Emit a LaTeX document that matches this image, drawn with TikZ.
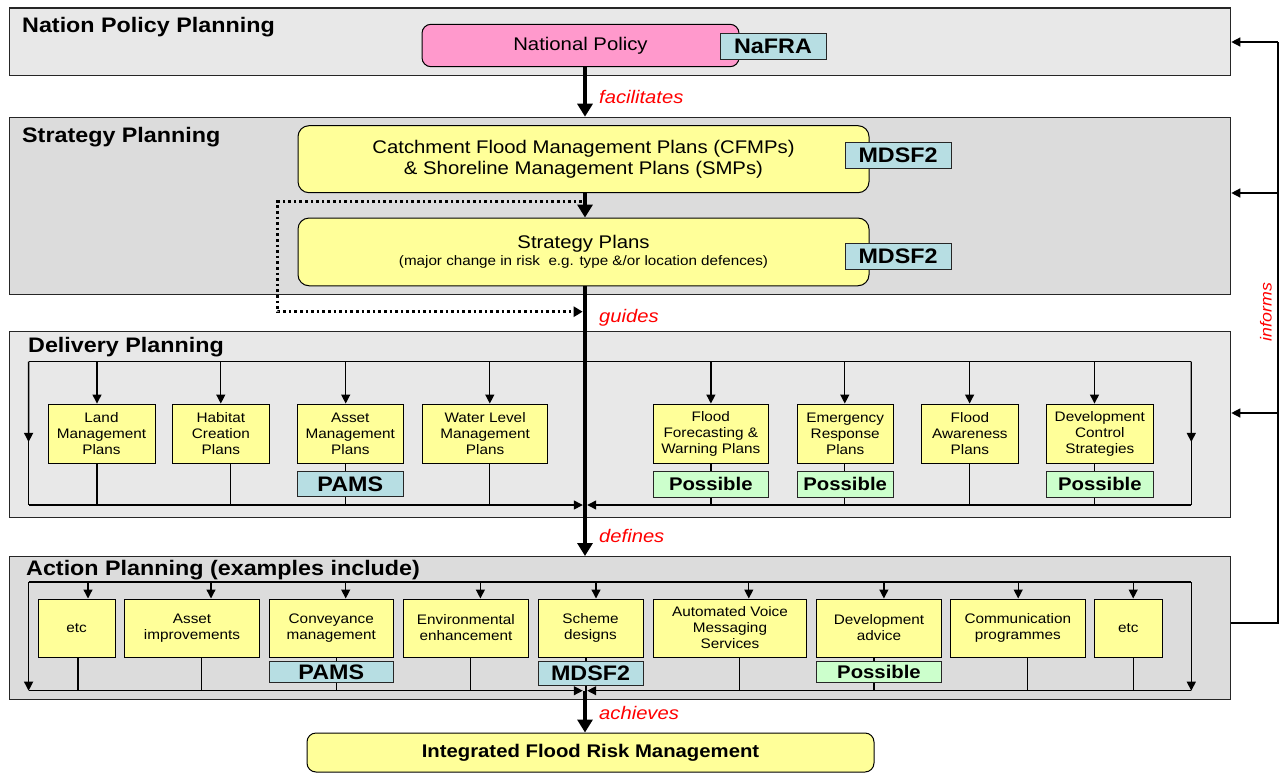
\documentclass[tikz,border=0pt]{standalone}
\usepackage{fontspec}
\setmainfont{Liberation Sans}[FakeStretch=1.11]
\usetikzlibrary{arrows.meta,calc}

\definecolor{panellight}{HTML}{E8E8E8}
\definecolor{paneldark}{HTML}{DCDCDC}
\definecolor{planyellow}{HTML}{FFFF99}
\definecolor{policypink}{HTML}{FF99CC}
\definecolor{tagblue}{HTML}{B7DEE3}
\definecolor{taggreen}{HTML}{CCFFCC}
\definecolor{labelred}{HTML}{FF0000}

\begin{document}
\begin{tikzpicture}[x=1pt,y=-1pt,
  panel/.style={draw=black!85, line width=1.3pt, inner sep=0pt, anchor=north west},
  paneltitle/.style={anchor=base west, inner sep=0pt, font=\fontsize{21}{24}\selectfont\bfseries},
  plan/.style={draw=black, line width=1pt, fill=planyellow, align=center, inner sep=0pt,
    font=\fontsize{13.8}{16}\selectfont},
  bigplan/.style={draw=black, line width=1pt, fill=planyellow, rounded corners=11pt,
    align=center, inner sep=0pt, font=\fontsize{18.3}{21}\selectfont},
  tag/.style={draw=black!85, line width=1pt, fill=tagblue, inner sep=0pt,
    font=\fontsize{21}{24}\selectfont\bfseries},
  maybe/.style={draw=black!85, line width=1pt, fill=taggreen, inner sep=0pt,
    font=\fontsize{18.3}{21}\selectfont\bfseries},
  flow/.style={line width=4.5pt, -{Triangle[width=15pt,length=13pt]}},
  feed/.style={line width=1.3pt, -{Triangle[width=9pt,length=9pt]}},
  wire/.style={line width=1.3pt},
  loopback/.style={line width=2.8pt, dash pattern=on 2.6pt off 3pt,
    -{Triangle[width=10pt,length=9pt]}},
  verb/.style={anchor=west, inner sep=0pt, text=labelred, font=\fontsize{18.2}{21}\selectfont\itshape},
]
\useasboundingbox (0,0) rectangle (1286,774);

% ---------- planning tiers ----------
\node[panel, fill=panellight, minimum width=1221pt, minimum height=67.7pt]  (pNat) at (9,7.3) {};
\node[panel, fill=paneldark,  minimum width=1221pt, minimum height=177.3pt] (pStr) at (9,116.7) {};
\node[panel, fill=panellight, minimum width=1221pt, minimum height=185.7pt] (pDel) at (9,331) {};
\node[panel, fill=paneldark,  minimum width=1221pt, minimum height=143pt]   (pAct) at (9,556) {};

\node[paneltitle] (tNat) at (22,32.3)  {Nation Policy Planning};
\node[paneltitle] (tStr) at (22,142.3) {Strategy Planning};
\node[paneltitle] (tDel) at (28,352.7) {Delivery Planning};
\node[paneltitle] (tAct) at (26,575)   {Action Planning (examples include)};

\coordinate (sp) at (585,0);

% ---------- national and strategy level ----------
\node[draw=black, line width=1pt, fill=policypink, rounded corners=9pt, inner sep=0pt,
      minimum width=317pt, minimum height=42.4pt, font=\fontsize{18.3}{21}\selectfont]
      (NP) at (580.5,45.5) {National Policy};

\node[bigplan, minimum width=571pt, minimum height=67pt] (CFMP) at (583.5,159.2)
  {Catchment Flood Management Plans (CFMPs)\\\& Shoreline Management Plans (SMPs)};
\node[bigplan, minimum width=571pt, minimum height=67.7pt] (SP) at (583.5,251.9)
  {Strategy Plans\\[-4.5pt]{\fontsize{13.7}{16}\selectfont (major change in risk\ \ e.g. type \&/or location defences)}};

% ---------- delivery plans ----------
\node[plan, minimum width=107pt,   minimum height=59.3pt] (d1) at (101.5,433.7)  {Land\\Management\\Plans};
\node[plan, minimum width=96.3pt,  minimum height=59.3pt] (d2) at (220.85,433.7) {Habitat\\Creation\\Plans};
\node[plan, minimum width=105.4pt, minimum height=59.3pt] (d3) at (350.3,433.7)  {Asset\\Management\\Plans};
\node[plan, minimum width=125.4pt, minimum height=59.3pt] (d4) at (485.1,433.7)  {Water Level\\Management\\Plans};
\node[plan, minimum width=115.6pt, minimum height=59.3pt] (d5) at (710.8,433.7)  {Flood\\Forecasting \&\\Warning Plans};
\node[plan, minimum width=96.4pt,  minimum height=59.3pt] (d6) at (845.2,433.7)  {Emergency\\Response\\Plans};
\node[plan, minimum width=96.2pt,  minimum height=59.3pt] (d7) at (969.9,433.7)  {Flood\\Awareness\\Plans};
\node[plan, minimum width=106.3pt, minimum height=59.3pt] (d8) at (1099.85,433.7) {Development\\Control\\Strategies};

% ---------- action plans ----------
\node[plan, minimum width=77pt,    minimum height=58pt] (a1) at (76.5,628)    {etc};
\node[plan, minimum width=135.1pt, minimum height=58pt] (a2) at (192.05,628)  {Asset\\improvements};
\node[plan, minimum width=124.5pt, minimum height=58pt] (a3) at (331.25,628)  {Conveyance\\management};
\node[plan, minimum width=125.3pt, minimum height=58pt] (a4) at (465.95,628)  {Environmental\\enhancement};
\node[plan, minimum width=105pt,   minimum height=58pt] (a5) at (590.5,628)   {Scheme\\designs};
\node[plan, minimum width=153.7pt, minimum height=58pt] (a6) at (730,628)     {Automated Voice\\Messaging\\Services};
\node[plan, minimum width=125.2pt, minimum height=58pt] (a7) at (879,628)     {Development\\advice};
\node[plan, minimum width=135.1pt, minimum height=58pt] (a8) at (1017.85,628) {Communication\\programmes};
\node[plan, minimum width=67.5pt,  minimum height=58pt] (a9) at (1128.25,628) {etc};

% ---------- outcome ----------
\node[draw=black, line width=1pt, fill=planyellow, rounded corners=9pt, inner sep=0pt,
      minimum width=567pt, minimum height=39pt, font=\fontsize{18.3}{21}\selectfont\bfseries]
      (IFRM) at (590.5,752.5) {Integrated Flood Risk Management};

% ---------- main spine ----------
\draw[flow] (NP.south -| sp) -- (pStr.north -| sp);
\draw[flow] (CFMP.south -| sp) -- (SP.north -| sp);
\draw[flow] (SP.south -| sp) -- (pAct.north -| sp);

\coordinate (loopTop) at (582,201.7);
\coordinate (loopBot) at (585,311.7);
\draw[loopback, shorten >=2.3pt] (loopTop) -- (277.6,201.7) -- (277.6,311.7) -- (loopBot);

\node[verb] (vFac) at (599,97)  {facilitates};
\node[verb] (vGui) at (599,318) {guides};
\node[verb] (vDef) at (599,536) {defines};
\node[verb] (vAch) at (599,713) {achieves};

% ---------- delivery distribution ----------
\coordinate (dTL) at (28.6,361.7);
\coordinate (dTR) at (1191.3,361.7);
\coordinate (dBL) at (28.6,505);
\coordinate (dBR) at (1191.3,505);
\coordinate (dHub) at (585,505);
\draw[wire] (dTL) -- (dTR);
\draw[wire] (dTL) -- (dBL);
\draw[wire] (dTR) -- (dBR);
\draw[feed] (dTL) -- ($(dTL)!0.56!(dBL)$);
\draw[feed] (dTR) -- ($(dTR)!0.56!(dBR)$);
\draw[feed, shorten >=2.2pt] (dBL) -- (dHub);
\draw[feed, shorten >=2.2pt] (dBR) -- (dHub);
\foreach \n/\xa/\xb in {1/97/97, 2/220.8/230.6, 3/345.7/345.7, 4/489.8/489.8,
                        5/710.9/711, 6/844.8/844.8, 7/969.6/969.6, 8/1094.5/1094.5} {
  \coordinate (dt\n) at (\xa,361.7);
  \coordinate (db\n) at (\xb,505);
  \draw[feed] (dt\n) -- (dt\n |- d\n.north);
  \draw[wire] (db\n |- d\n.south) -- (db\n);
}

% ---------- action distribution ----------
\coordinate (aTL) at (28.6,582);
\coordinate (aTR) at (1191.3,582);
\coordinate (aBL) at (28.6,690.7);
\coordinate (aBR) at (1191.3,690.7);
\coordinate (aHub) at (585,690.7);
\draw[wire] (aTL) -- (aTR);
\draw[feed] (aTL) -- (aBL);
\draw[feed] (aTR) -- (aBR);
\draw[feed, shorten >=2.2pt] (aBL) -- (aHub);
\draw[feed, shorten >=2.2pt] (aBR) -- (aHub);
\foreach \n/\xa/\xb in {1/88/78, 2/211/201.6, 3/345.7/336.3, 4/480.4/470.6, 5/596/586,
                        6/748.8/739.3, 7/883.9/874, 8/1018.2/1027.3, 9/1133.2/1133.6} {
  \coordinate (at\n) at (\xa,582);
  \coordinate (ab\n) at (\xb,690.7);
  \draw[feed] (at\n) -- (at\n |- a\n.north);
  \draw[wire] (ab\n |- a\n.south) -- (ab\n);
}
\draw[flow] (aHub) -- (IFRM.north -| sp);

% ---------- feedback loop ----------
\coordinate (infTop) at (1278,42);
\coordinate (infStr) at (1278,193);
\coordinate (infDel) at (1278,413);
\coordinate (infBot) at (1278,623);
\draw[wire] (pAct.east |- infBot) -- (infBot) -- (infTop);
\draw[feed] (infTop) -- (infTop -| pNat.east);
\draw[feed] (infStr) -- (infStr -| pStr.east);
\draw[feed] (infDel) -- (infDel -| pDel.east);
\node[rotate=90, inner sep=0pt, text=labelred, font=\fontsize{16}{19}\selectfont\itshape]
  (vInf) at (1266,312) {informs};

% ---------- tool tags ----------
\node[tag, minimum width=106pt, minimum height=25.7pt] (gNaFRA) at (773,46.2) {NaFRA};
\node[tag, minimum width=106pt, minimum height=26pt] (gCF) at (898,155) {MDSF2};
\node[tag, minimum width=106pt, minimum height=26pt] (gSP) at (898,256) {MDSF2};
\node[tag, minimum width=105.4pt, minimum height=25pt] (gD3) at (350.3,484.2) {PAMS};
\node[maybe, minimum width=115.6pt, minimum height=25.3pt] (gD5) at (710.8,484.35) {Possible};
\node[maybe, minimum width=96.4pt,  minimum height=25.3pt] (gD6) at (845.2,484.35) {Possible};
\node[maybe, minimum width=106.3pt, minimum height=25.3pt] (gD8) at (1099.85,484.35) {Possible};
\node[tag, minimum width=124.5pt, minimum height=21.4pt] (gA3) at (331.25,672) {PAMS};
\node[tag, minimum width=105pt,   minimum height=24.7pt] (gA5) at (590.5,673.6) {MDSF2};
\node[maybe, minimum width=125.2pt, minimum height=21.4pt] (gA7) at (879,672) {Possible};
\end{tikzpicture}
\end{document}
